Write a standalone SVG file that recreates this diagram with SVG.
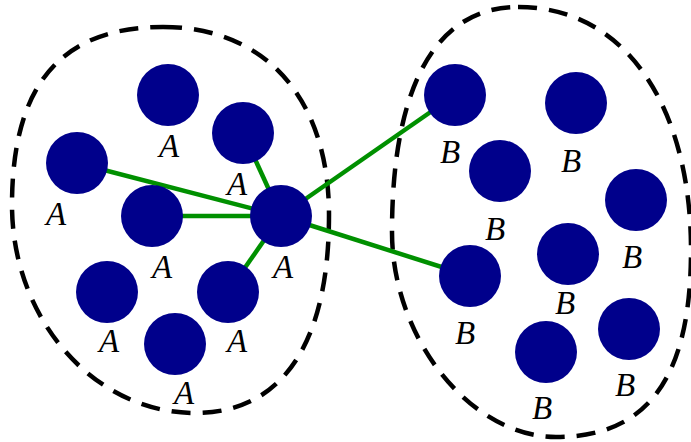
<svg xmlns="http://www.w3.org/2000/svg" width="691" height="442" viewBox="0 0 691 442">
<style>
.n{fill:#00008B}
.l{font-family:"Liberation Serif","DejaVu Serif",serif;font-style:italic;font-size:33px;fill:#000;text-anchor:middle}
.e{stroke:#009000;stroke-width:4.5;fill:none}
.c{fill:none;stroke:#000;stroke-width:4.5;stroke-dasharray:19 12}
</style>
<rect width="691" height="442" fill="#fff"/>
<g id="clusters">
<path id="clusterA" class="c" d="M163,27 C266,27 329,99 329,215 C329,344 282,413 195,413 C94,413 12,319 12,205 C12,86 60,27 163,27 Z"/>
<path id="clusterB" class="c" d="M518,7 C628,7 691,110 691,250 C691,375 650,437 556,437 C471,437 392,339 392,232 C392,86 436,7 518,7 Z"/>
</g>
<g id="connectors">
<line class="e" x1="281" y1="216" x2="77" y2="163"/>
<line class="e" x1="281" y1="216" x2="152" y2="216"/>
<line class="e" x1="281" y1="216" x2="243" y2="133"/>
<line class="e" x1="281" y1="216" x2="228" y2="292"/>
<line class="e" x1="281" y1="216" x2="455" y2="95"/>
<line class="e" x1="281" y1="216" x2="470" y2="276"/>
</g>
<g id="a1"><circle class="n" cx="168" cy="95" r="31"/><text class="l" x="169" y="157">A</text></g>
<g id="a2"><circle class="n" cx="243" cy="133" r="31"/><text class="l" x="237" y="195">A</text></g>
<g id="a3"><circle class="n" cx="77" cy="163" r="31"/><text class="l" x="56" y="225">A</text></g>
<g id="a4"><circle class="n" cx="152" cy="216" r="31"/><text class="l" x="162" y="278">A</text></g>
<g id="hub"><circle class="n" cx="281" cy="216" r="31"/><text class="l" x="283" y="278">A</text></g>
<g id="a5"><circle class="n" cx="107" cy="292" r="31"/><text class="l" x="109" y="352">A</text></g>
<g id="a6"><circle class="n" cx="228" cy="292" r="31"/><text class="l" x="237" y="352">A</text></g>
<g id="a7"><circle class="n" cx="175" cy="344" r="31"/><text class="l" x="184" y="404">A</text></g>
<g id="b1"><circle class="n" cx="455" cy="95" r="31"/><text class="l" x="450" y="163">B</text></g>
<g id="b2"><circle class="n" cx="576" cy="103" r="31"/><text class="l" x="571" y="172">B</text></g>
<g id="b3"><circle class="n" cx="500" cy="171" r="31"/><text class="l" x="495" y="240">B</text></g>
<g id="b4"><circle class="n" cx="636" cy="200" r="31"/><text class="l" x="632" y="268">B</text></g>
<g id="b5"><circle class="n" cx="470" cy="276" r="31"/><text class="l" x="465" y="344">B</text></g>
<g id="b6"><circle class="n" cx="568" cy="254" r="31"/><text class="l" x="565" y="314">B</text></g>
<g id="b7"><circle class="n" cx="546" cy="352" r="31"/><text class="l" x="542" y="419">B</text></g>
<g id="b8"><circle class="n" cx="629" cy="329" r="31"/><text class="l" x="625" y="396">B</text></g>
</svg>
